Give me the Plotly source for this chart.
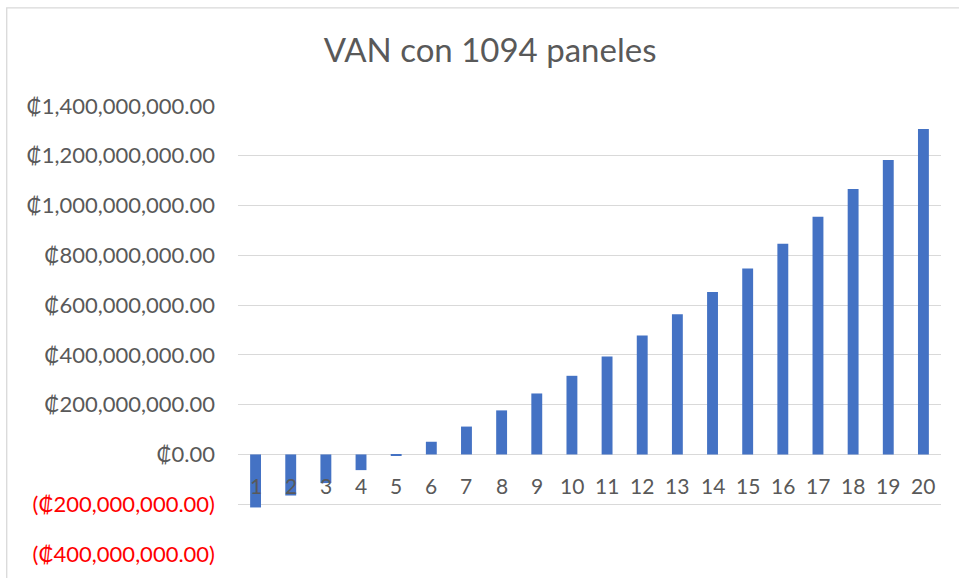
import plotly.graph_objects as go

years = list(range(1, 21))
van_millions = [-213, -165, -115, -63, -5, 51, 112, 177, 245, 316,
                394, 478, 563, 653, 747, 847, 955, 1067, 1183, 1308]
values = [v * 1e6 for v in van_millions]

tick_vals = [-400e6, -200e6, 0, 200e6, 400e6, 600e6, 800e6, 1000e6, 1200e6, 1400e6]


def fmt(v):
    s = "₡{:,.2f}".format(abs(v))
    if v < 0:
        return "<span style='color:#FF0000'>(" + s + ")</span>"
    return s


tick_text = [fmt(v) for v in tick_vals]

FONT = "Lato, 'DejaVu Sans', sans-serif"
GRID = "#D9D9D9"
TEXT = "#595959"

fig = go.Figure()
fig.add_trace(go.Bar(
    x=years, y=values, width=0.31,
    marker=dict(color="#4472C4", line=dict(width=0)),
))

for yr in years:
    fig.add_annotation(x=yr, y=0, xref="x", yref="y", text=str(yr), showarrow=False,
                       yanchor="middle", yshift=-31.5,
                       font=dict(family=FONT, size=21, color=TEXT))

fig.add_shape(type="rect", xref="paper", yref="paper",
              x0=-0.329, x1=1.2, y0=-0.3, y1=1.219,
              line=dict(color="#D9D9D9", width=1.3), fillcolor="rgba(0,0,0,0)",
              layer="below")

fig.update_layout(
    width=959, height=578,
    margin=dict(l=238, r=18, t=106, b=24),
    paper_bgcolor="white", plot_bgcolor="white",
    showlegend=False,
    title=dict(text="VAN con 1094 paneles", x=0.511, xanchor="center",
               y=0.913, yanchor="middle",
               font=dict(family=FONT, size=33, color=TEXT)),
    font=dict(family=FONT, size=20, color=TEXT),
)
fig.update_xaxes(type="linear", range=[0.5, 20.5], showticklabels=False,
                 showgrid=False, showline=False, ticks="", zeroline=False)
fig.update_yaxes(range=[-400e6, 1400e6], tickvals=tick_vals, ticktext=tick_text,
                 showgrid=True, gridcolor=GRID, gridwidth=1.3,
                 zeroline=True, zerolinecolor=GRID, zerolinewidth=1.3,
                 showline=False, ticks="", ticklabelstandoff=22,
                 tickfont=dict(family=FONT, size=22, color=TEXT))

fig.write_html("out.html", config={"displayModeBar": False},
               post_script="document.body.style.margin='0';")
